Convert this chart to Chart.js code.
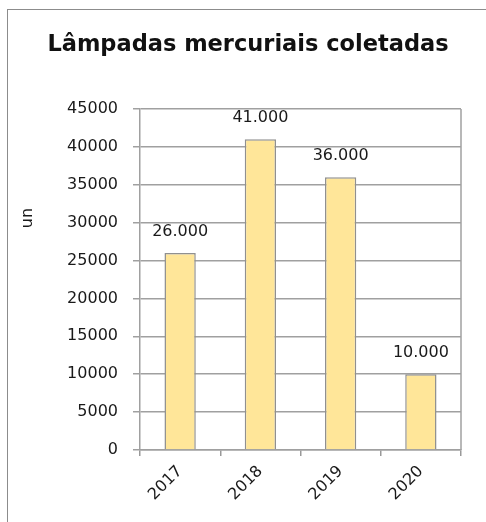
<!DOCTYPE html>
<html>
<head>
<meta charset="utf-8">
<script src="https://cdn.jsdelivr.net/npm/chart.js@4.4.1/dist/chart.umd.min.js"></script>
<style>
  html, body { margin: 0; padding: 0; background: #fff; overflow: hidden; }
  #wrap { position: relative; width: 486px; height: 522px; overflow: hidden; }
  #frame { position: absolute; left: 7px; top: 9px; width: 500px; height: 540px; border: 1.5px solid #8c8c8c; box-sizing: border-box; }
  canvas { position: absolute; left: 0; top: 0; }
</style>
</head>
<body>
<div id="wrap">
  <div id="frame"></div>
  <canvas id="chart" width="486" height="522"></canvas>
</div>
<script>
const years = ['2017', '2018', '2019', '2020'];
const collected = [26000, 41000, 36000, 10000];
const yMax = 45000;
const yStep = 5000;

const chartTitle = 'Lâmpadas mercuriais coletadas';
const yAxisTitle = 'un';

// 26000 -> "26.000"
function ptNumber(v) {
    return String(v).replace(/\B(?=(\d{3})+(?!\d))/g, '.');
}

const labelFont = "16px 'DejaVu Sans', Verdana, sans-serif";

const extras = {
    id: 'extras',
    afterDatasetsDraw(chart) {
        const ctx = chart.ctx;
        const area = chart.chartArea;
        ctx.save();
        // right edge of plot area
        ctx.strokeStyle = '#a0a0a0';
        ctx.lineWidth = 1.5;
        ctx.beginPath();
        ctx.moveTo(area.right, area.top);
        ctx.lineTo(area.right, area.bottom);
        ctx.stroke();

        // value labels above bars
        ctx.fillStyle = '#1a1a1a';
        ctx.font = labelFont;
        ctx.textAlign = 'center';
        ctx.textBaseline = 'middle';
        const meta = chart.getDatasetMeta(0);
        meta.data.forEach((bar, i) => {
            ctx.fillText(ptNumber(collected[i]), bar.x, bar.y - 21);
        });

        // y axis title
        ctx.translate(28, 218);
        ctx.rotate(-Math.PI / 2);
        ctx.fillText(yAxisTitle, 0, 0);
        ctx.restore();
    }
};

new Chart(document.getElementById('chart'), {
    type: 'bar',
    data: {
        labels: years,
        datasets: [{
            data: collected,
            backgroundColor: '#ffe699',
            borderColor: '#909090',
            borderWidth: 1.5,
            categoryPercentage: 1,
            barPercentage: 0.39
        }]
    },
    options: {
        responsive: false,
        animation: false,
        layout: { padding: { left: 35, right: 25, top: 0, bottom: 0 } },
        plugins: {
            legend: { display: false },
            tooltip: { enabled: false },
            title: {
                display: true,
                text: chartTitle,
                color: '#111',
                font: { family: "'DejaVu Sans', Verdana, sans-serif", size: 22.5, weight: 'bold' },
                padding: { top: 32, bottom: 50 }
            }
        },
        scales: {
            x: {
                afterFit(scale) { scale.height = 72; },
                grid: {
                    drawOnChartArea: false,
                    drawTicks: true,
                    tickLength: 6,
                    color: '#999',
                    lineWidth: 1.5
                },
                border: { color: '#a0a0a0', width: 1.5 },
                ticks: {
                    color: '#1a1a1a',
                    font: { family: "'DejaVu Sans', Verdana, sans-serif", size: 16 },
                    minRotation: 45,
                    maxRotation: 45,
                    padding: 6
                }
            },
            y: {
                min: 0,
                max: yMax,
                afterFit(scale) { scale.width = 105; },
                grid: {
                    color: '#a0a0a0',
                    lineWidth: 1.5,
                    tickLength: 7
                },
                border: { color: '#a0a0a0', width: 1.5 },
                ticks: {
                    stepSize: yStep,
                    color: '#1a1a1a',
                    padding: 15,
                    font: { family: "'DejaVu Sans', Verdana, sans-serif", size: 16 },
                    callback: (v) => String(v)
                }
            }
        }
    },
    plugins: [extras]
});
</script>
</body>
</html>
